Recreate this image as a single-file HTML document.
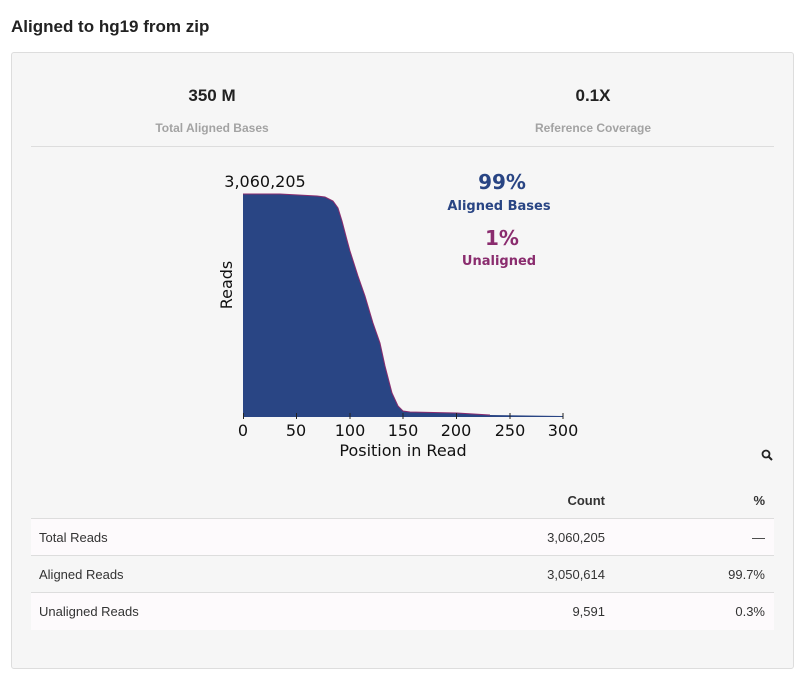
<!DOCTYPE html>
<html><head><style>
body{margin:0;width:809px;height:690px;background:#fff;font-family:"Liberation Sans",Arial,sans-serif;position:relative;overflow:hidden}
.a{position:absolute}
.t{font-size:13px;color:#333}
</style></head><body>
<div class="a" style="left:11px;top:17px;font-size:17px;font-weight:bold;color:#222">Aligned to hg19 from zip</div>
<div class="a" style="left:11px;top:52px;width:781px;height:615px;background:#f6f6f6;border:1px solid #ddd;border-radius:3px"></div>
<div class="a" style="left:112px;top:86px;width:200px;text-align:center;font-size:17px;font-weight:bold;color:#222">350 M</div>
<div class="a" style="left:112px;top:121px;width:200px;text-align:center;font-size:12px;font-weight:bold;color:#a3a3a3">Total Aligned Bases</div>
<div class="a" style="left:493px;top:86px;width:200px;text-align:center;font-size:17px;font-weight:bold;color:#222">0.1X</div>
<div class="a" style="left:493px;top:121px;width:200px;text-align:center;font-size:12px;font-weight:bold;color:#a3a3a3">Reference Coverage</div>
<div class="a" style="left:31px;top:146px;width:743px;height:1px;background:#ddd"></div>
<svg class="a" style="left:0;top:0" width="809" height="470">
<polygon fill="#294584" points="243,416 243,194 280,194 317,196 325,197 333,201 338,208 342,221 347,240 350,251 358,276 365,296 373,323 380,343 385,366 392,393 398,406 403,411 410,412 457,413 490,415 563,416"/>
<polyline fill="none" stroke="#8a2c6e" stroke-width="1" points="243,194 280,194 317,196 325,197 333,201 338,208 342,221 347,240 350,251 358,276 365,296 373,323 380,343 385,366 392,393 398,406 403,411 410,412 457,413 490,415"/>
<line x1="243" y1="416.5" x2="563" y2="416.5" stroke="#294584" stroke-width="1"/>
<g stroke="#222" stroke-width="1">
<line x1="243.5" y1="413" x2="243.5" y2="419"/><line x1="296.5" y1="413" x2="296.5" y2="419"/><line x1="350" y1="413" x2="350" y2="419"/><line x1="403" y1="413" x2="403" y2="419"/><line x1="456.5" y1="413" x2="456.5" y2="419"/><line x1="510" y1="413" x2="510" y2="419"/><line x1="563" y1="413" x2="563" y2="419"/>
</g>
<g font-family="DejaVu Sans,sans-serif" font-size="16" fill="#111" text-anchor="middle">
<text x="243" y="436">0</text><text x="296" y="436">50</text><text x="350" y="436">100</text><text x="403" y="436">150</text><text x="456" y="436">200</text><text x="510" y="436">250</text><text x="563" y="436">300</text>
<text x="403" y="456">Position in Read</text>
<text x="265" y="187">3,060,205</text>
<text transform="translate(232,285) rotate(-90)">Reads</text>
<text x="502" y="189" font-size="20" font-weight="bold" fill="#294584">99%</text>
<text x="499" y="210" font-size="13" font-weight="bold" fill="#294584">Aligned Bases</text>
<text x="502" y="245" font-size="20" font-weight="bold" fill="#8a2c6e">1%</text>
<text x="499" y="265" font-size="13" font-weight="bold" fill="#8a2c6e">Unaligned</text>
</g>
<circle cx="766" cy="454" r="3.5" fill="none" stroke="#222" stroke-width="1.8"/>
<line x1="768.5" y1="456.5" x2="772" y2="460" stroke="#222" stroke-width="2"/>
</svg>
<div class="a" style="left:31px;top:518px;width:743px;height:37px;background:#fdfafc;border-top:1px solid #ddd"></div>
<div class="a" style="left:31px;top:555px;width:743px;height:37px;border-top:1px solid #ddd"></div>
<div class="a" style="left:31px;top:592px;width:743px;height:37px;background:#fdfafc;border-top:1px solid #ddd"></div>
<div class="a t" style="left:500px;top:493px;width:105px;text-align:right;font-weight:bold">Count</div>
<div class="a t" style="left:700px;top:493px;width:65px;text-align:right;font-weight:bold">%</div>
<div class="a t" style="left:39px;top:530px">Total Reads</div>
<div class="a t" style="left:500px;top:530px;width:105px;text-align:right">3,060,205</div>
<div class="a t" style="left:700px;top:530px;width:65px;text-align:right">—</div>
<div class="a t" style="left:39px;top:567px">Aligned Reads</div>
<div class="a t" style="left:500px;top:567px;width:105px;text-align:right">3,050,614</div>
<div class="a t" style="left:700px;top:567px;width:65px;text-align:right">99.7%</div>
<div class="a t" style="left:39px;top:604px">Unaligned Reads</div>
<div class="a t" style="left:500px;top:604px;width:105px;text-align:right">9,591</div>
<div class="a t" style="left:700px;top:604px;width:65px;text-align:right">0.3%</div>
</body></html>
